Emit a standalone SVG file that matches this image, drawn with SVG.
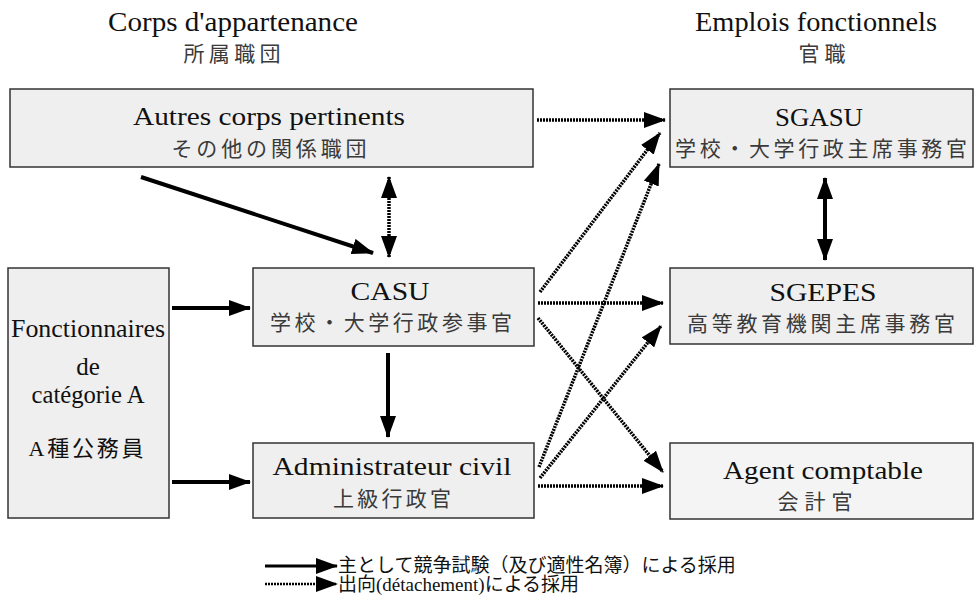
<svg xmlns="http://www.w3.org/2000/svg" width="975" height="595" viewBox="0 0 975 595">
  <style>
    .box { fill: #efefef; stroke: #333; stroke-width: 1.5; }
    .lat { font-family: "Liberation Serif", "Noto Sans CJK JP", serif; fill: #111; }
    .jp { font-family: "Noto Sans CJK JP", "Liberation Sans", sans-serif; fill: #3a3a3a; }
    .solid { stroke: #000; stroke-width: 4; fill: none; }
    .dot { stroke: #000; stroke-width: 3.5; fill: none; stroke-dasharray: 2 1; }
  </style>
  <defs>
    <marker id="head" markerUnits="userSpaceOnUse" viewBox="0 0 22 16" refX="21" refY="8" markerWidth="22" markerHeight="16" orient="auto-start-reverse">
      <path d="M0,0 L22,8 L0,16 z" fill="#000"/>
    </marker>
    <marker id="headDot" markerUnits="userSpaceOnUse" viewBox="0 0 22 16" refX="21" refY="8" markerWidth="22" markerHeight="16" orient="auto-start-reverse">
      <path d="M0,0 L22,8 L0,16 z" fill="#000"/>
    </marker>
  </defs>
  <rect width="975" height="595" fill="#fff"/>

  <!-- column headings -->
  <g id="heading-corps">
    <text class="lat" x="233" y="31" font-size="27" text-anchor="middle" textLength="250" lengthAdjust="spacingAndGlyphs">Corps d'appartenance</text>
    <text class="jp" x="232" y="61" font-size="21" text-anchor="middle" textLength="97" lengthAdjust="spacing">所属職団</text>
  </g>
  <g id="heading-emplois">
    <text class="lat" x="816" y="31" font-size="27" text-anchor="middle" textLength="242" lengthAdjust="spacingAndGlyphs">Emplois fonctionnels</text>
    <text class="jp" x="822" y="61" font-size="21" text-anchor="middle" textLength="47" lengthAdjust="spacing">官職</text>
  </g>

  <!-- nodes -->
  <g id="autres">
    <rect class="box" x="10" y="89" width="523" height="78"/>
    <text class="lat" x="269" y="125" font-size="26" text-anchor="middle" textLength="272" lengthAdjust="spacingAndGlyphs">Autres corps pertinents</text>
    <text class="jp" x="269" y="156" font-size="21" text-anchor="middle" textLength="195" lengthAdjust="spacing">その他の関係職団</text>
  </g>
  <g id="sgasu">
    <rect class="box" x="670" y="89" width="303" height="78"/>
    <text class="lat" x="819" y="126" font-size="26" text-anchor="middle" textLength="88" lengthAdjust="spacingAndGlyphs">SGASU</text>
    <text class="jp" x="821" y="156" font-size="21" text-anchor="middle" textLength="292" lengthAdjust="spacing">学校・大学行政主席事務官</text>
  </g>
  <g id="fonctionnaires">
    <rect class="box" x="8" y="268" width="161" height="250"/>
    <text class="lat" x="88" y="337" font-size="25" text-anchor="middle" textLength="154" lengthAdjust="spacingAndGlyphs">Fonctionnaires</text>
    <text class="lat" x="88" y="375" font-size="25" text-anchor="middle">de</text>
    <text class="lat" x="88" y="403" font-size="25" text-anchor="middle" textLength="113" lengthAdjust="spacingAndGlyphs">catégorie A</text>
    <text class="lat" x="86" y="456" font-size="22" text-anchor="middle" textLength="115" lengthAdjust="spacing">A種公務員</text>
  </g>
  <g id="casu">
    <rect class="box" x="253" y="268" width="281" height="78"/>
    <text class="lat" x="390" y="300" font-size="26" text-anchor="middle" textLength="79" lengthAdjust="spacingAndGlyphs">CASU</text>
    <text class="jp" x="391" y="330" font-size="21" text-anchor="middle" textLength="242" lengthAdjust="spacing">学校・大学行政参事官</text>
  </g>
  <g id="sgepes">
    <rect class="box" x="670" y="268" width="303" height="76"/>
    <text class="lat" x="823" y="301" font-size="26" text-anchor="middle" textLength="107" lengthAdjust="spacingAndGlyphs">SGEPES</text>
    <text class="jp" x="821" y="331" font-size="21" text-anchor="middle" textLength="268" lengthAdjust="spacing">高等教育機関主席事務官</text>
  </g>
  <g id="administrateur">
    <rect class="box" x="253" y="443" width="281" height="75"/>
    <text class="lat" x="392" y="475" font-size="26" text-anchor="middle" textLength="239" lengthAdjust="spacingAndGlyphs">Administrateur civil</text>
    <text class="jp" x="392" y="506" font-size="21" text-anchor="middle" textLength="118" lengthAdjust="spacing">上級行政官</text>
  </g>
  <g id="agent">
    <rect class="box" x="670" y="443" width="303" height="76" style="fill:#f4f4f4"/>
    <text class="lat" x="823" y="479" font-size="26" text-anchor="middle" textLength="200" lengthAdjust="spacingAndGlyphs">Agent comptable</text>
    <text class="jp" x="815" y="509" font-size="21" text-anchor="middle" textLength="75" lengthAdjust="spacing">会計官</text>
  </g>

  <!-- connectors -->
  <g id="connectors">
    <path class="dot" d="M537,120 L665,120" marker-end="url(#headDot)"/>
    <path class="solid" d="M141,177 L373,253" marker-end="url(#head)"/>
    <path class="dot" d="M389,177 L389,257" marker-start="url(#headDot)" marker-end="url(#headDot)"/>
    <path class="solid" d="M825,178 L825,260" marker-start="url(#head)" marker-end="url(#head)"/>
    <path class="solid" d="M172,308 L250,308" marker-end="url(#head)"/>
    <path class="solid" d="M172,482 L250,482" marker-end="url(#head)"/>
    <path class="solid" d="M388,353 L388,437" marker-end="url(#head)"/>
    <path class="dot" d="M540,292 L660,133" marker-end="url(#headDot)"/>
    <path class="dot" d="M539,467 L659,164" marker-end="url(#headDot)"/>
    <path class="dot" d="M538,303 L663,303" marker-end="url(#headDot)"/>
    <path class="dot" d="M538,318 L663,472" marker-end="url(#headDot)"/>
    <path class="dot" d="M540,478 L661,326" marker-end="url(#headDot)"/>
    <path class="dot" d="M538,486 L663,486" marker-end="url(#headDot)"/>
  </g>

  <!-- legend -->
  <g id="legend">
    <path class="solid" d="M265,566 L337,566" marker-end="url(#head)" style="stroke-width:3"/>
    <text class="lat" x="338" y="572" font-size="19">主として競争試験（及び適性名簿）による採用</text>
    <path class="dot" d="M265,584 L337,584" marker-end="url(#headDot)" style="stroke-width:2.5"/>
    <text class="lat" x="338" y="591" font-size="19">出向(détachement)による採用</text>
  </g>
</svg>
